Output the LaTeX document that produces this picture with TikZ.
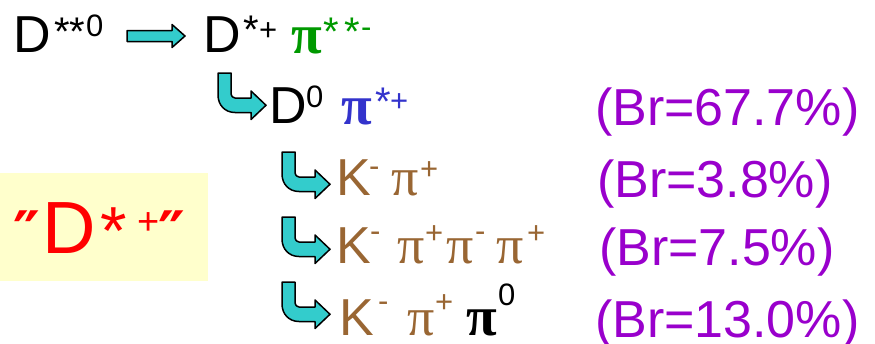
\documentclass[tikz,border=0pt]{standalone}
\usepackage{fontspec}
\setmainfont{Liberation Sans}
\newfontfamily\pifont{Liberation Serif}
\newfontfamily\dvfont{DejaVu Sans}
\definecolor{arrowcyan}{HTML}{33CCCC}
\definecolor{pigreen}{HTML}{009900}
\definecolor{piblue}{HTML}{3333CC}
\definecolor{brpurple}{HTML}{9900CC}
\definecolor{kbrown}{HTML}{996633}
\definecolor{boxyellow}{HTML}{FFFFCC}
\tikzset{
  txt/.style={inner sep=0pt, outer sep=0pt, anchor=base west},
  big/.style={txt, font=\fontsize{52}{60}\selectfont},
  supr/.style={txt, font=\fontsize{31}{32}\selectfont},
  starr/.style={txt, font=\fontsize{40}{42}\selectfont},
  pisym/.style={txt, font=\pifont\fontsize{54}{60}\selectfont},
  pibold/.style={pisym, font=\pifont\bfseries\fontsize{56}{60}\selectfont},
  blockarrow/.style={fill=arrowcyan, draw=black, line width=1.5pt, line join=round},
  bentarrow/.pic={
    \path[blockarrow] (0,0) -- (0,22) .. controls (0,32) and (7,39.5) .. (17,39.5)
      -- (33,39.5) -- (33,46.5) -- (48,32.25) -- (33,18) -- (33,25) -- (17,25)
      .. controls (15,25) and (13,23) .. (13,21) -- (13,0) -- cycle;
  }
}
\begin{document}
\begin{tikzpicture}[x=1pt,y=-1pt]
\useasboundingbox (0,0) rectangle (875,343);
% yellow box
\fill[boxyellow] (0,173) rectangle (208,281);
\node[txt, font=\dvfont\bfseries\fontsize{60}{60}\selectfont, text=red] (q1) at (13,254) {″};
\node[txt, font=\fontsize{74}{80}\selectfont, text=red] (rd) at (42,253) {D};
\node[txt, font=\fontsize{68}{70}\selectfont, text=red] (rs) at (100,254) {*};
\node[txt, font=\fontsize{38}{40}\selectfont, text=red] (rp) at (137,234) {+};
\node[txt, font=\dvfont\bfseries\fontsize{60}{60}\selectfont, text=red] (q2) at (158,254) {″};
% row 1
\node[big] (d1) at (13,52) {D};
\node[starr] (d1s1) at (54,45) {*};
\node[starr] (d1s2) at (69,45) {*};
\node[supr] (d1z) at (86,36) {0};
\path[blockarrow] (127,30.5) -- (172,30.5) -- (172,24.5) -- (185,36) -- (172,47.5) -- (172,41.5) -- (127,41.5) -- cycle;
\node[big] (d2) at (203,52) {D};
\node[starr] (d2s) at (243,43) {*};
\node[supr] (d2p) at (259,40) {+};
\node[pibold, text=pigreen] (pi1) at (291,53) {π};
\node[starr, text=pigreen] (pi1s1) at (323,45) {*};
\node[starr, text=pigreen] (pi1s2) at (344,45) {*};
\node[supr, text=pigreen] (pi1m) at (361,37) {-};
% row 2
\pic at (218,73) {bentarrow};
\node[big] (d3) at (269,123) {D};
\node[supr] (d3z) at (306,107) {0};
\node[pibold, text=piblue] (pi2) at (341,124) {π};
\node[starr, text=piblue] (pi2s) at (375,115) {*};
\node[supr, text=piblue] (pi2p) at (390,111) {+};
\node[big, text=brpurple] (br1) at (595,125) {(Br=67.7\%)};
% row 3
\pic at (282,152) {bentarrow};
\node[big, text=kbrown] (k3) at (336,195) {K};
\node[supr, text=kbrown] (k3m) at (369,176) {-};
\node[pisym, text=kbrown] (p3a) at (391,195) {π};
\node[supr, text=kbrown] (p3ap) at (420,179) {+};
\node[big, text=brpurple] (br2) at (597,197) {(Br=3.8\%)};
% row 4
\pic at (282,217) {bentarrow};
\node[big, text=kbrown] (k4) at (336,263) {K};
\node[supr, text=kbrown] (k4m) at (370,241) {-};
\node[pisym, text=kbrown] (p4a) at (397,263) {π};
\node[supr, text=kbrown] (p4ap) at (425,243) {+};
\node[pisym, text=kbrown] (p4b) at (446,263) {π};
\node[supr, text=kbrown] (p4bm) at (475,241) {-};
\node[pisym, text=kbrown] (p4c) at (496,263) {π};
\node[supr, text=kbrown] (p4cp) at (527,243) {+};
\node[big, text=brpurple] (br3) at (599,265) {(Br=7.5\%)};
% row 5
\pic at (282,282) {bentarrow};
\node[big, text=kbrown] (k5) at (339,335) {K};
\node[supr, text=kbrown] (k5m) at (378,311) {-};
\node[pisym, text=kbrown] (p5a) at (407,335) {π};
\node[supr, text=kbrown] (p5ap) at (435,312) {+};
\node[pibold] (p5b) at (466,335) {π};
\node[supr] (p5bz) at (498,305) {0};
\node[big, text=brpurple] (br4) at (595,337) {(Br=13.0\%)};
\end{tikzpicture}
\end{document}
